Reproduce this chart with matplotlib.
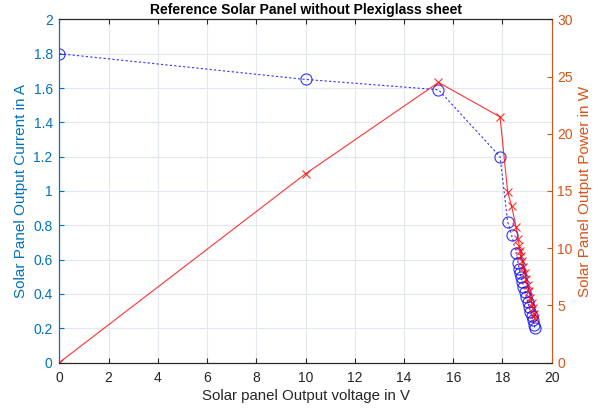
import matplotlib
matplotlib.use("Agg")
import matplotlib.pyplot as plt
import numpy as np

plt.rcParams['font.family'] = ['Liberation Sans', 'DejaVu Sans']

# measured panel voltage (V) and current (A)
voltage = [0, 10, 15.4, 17.9, 18.21, 18.37, 18.55, 18.64, 18.68, 18.72, 18.75,
           18.81, 18.85, 18.92, 18.96, 19.02, 19.08, 19.13, 19.19, 19.24, 19.29, 19.32]
current = [1.80, 1.65, 1.59, 1.20, 0.82, 0.744, 0.641, 0.579, 0.544, 0.521, 0.497,
           0.472, 0.443, 0.414, 0.384, 0.355, 0.326, 0.297, 0.272, 0.249, 0.220, 0.200]
power = [v * i for v, i in zip(voltage, current)]

left_col = (0, 0.447, 0.741)
right_col = (0.85, 0.325, 0.098)

fig = plt.figure(figsize=(6.02, 4.12), dpi=100)
ax = fig.add_axes([0.0985, 0.12, 0.818, 0.833])
ax2 = ax.twinx()

ax.plot(voltage, current, 'o', ls=(0, (2, 2)), color='blue', mfc='none', ms=8,
        lw=0.8, mew=0.8, alpha=0.8)
ax2.plot(voltage, power, 'x-', color='red', ms=6, lw=0.8, mew=0.8, alpha=0.8)

ax.set_xlim(0, 20)
ax.set_ylim(0, 2)
ax2.set_ylim(0, 30)
ax.set_xticks(np.arange(0, 21, 2))
ax.set_yticks(np.arange(0, 2.01, 0.2))
ax.set_yticklabels(['0', '0.2', '0.4', '0.6', '0.8', '1', '1.2', '1.4', '1.6', '1.8', '2'])
ax2.set_yticks(np.arange(0, 31, 5))

ax.grid(True, color='#e3e8ee', lw=0.8)
ax.set_axisbelow(True)

ax.tick_params(axis='both', direction='in', labelsize=10, length=3.6, top=True,
               color='#262626', pad=4.8)
ax.tick_params(axis='y', colors=left_col)
ax.tick_params(axis='x', colors='#262626', pad=6)
ax2.tick_params(axis='y', direction='in', labelsize=10, length=3.6, colors=right_col, pad=4)

for s in ['bottom', 'top']:
    ax.spines[s].set_color('#262626')
    ax2.spines[s].set_color('#262626')
ax.spines['left'].set_color(left_col)
ax2.spines['left'].set_color(left_col)
ax2.spines['right'].set_color(right_col)
ax.spines['right'].set_visible(False)

ax.set_xlabel('Solar panel Output voltage in V', fontsize=10.8, color='#262626', labelpad=3)
ax.set_ylabel('Solar Panel Output Current in A', fontsize=11, color=left_col, labelpad=4)
ax2.set_ylabel('Solar Panel Output Power in W', fontsize=11, color=right_col, labelpad=4)
ax.set_title('Reference Solar Panel without Plexiglass sheet', fontsize=10,
             fontweight='bold', color='black', pad=4)

fig.savefig('out.png', dpi=100)
